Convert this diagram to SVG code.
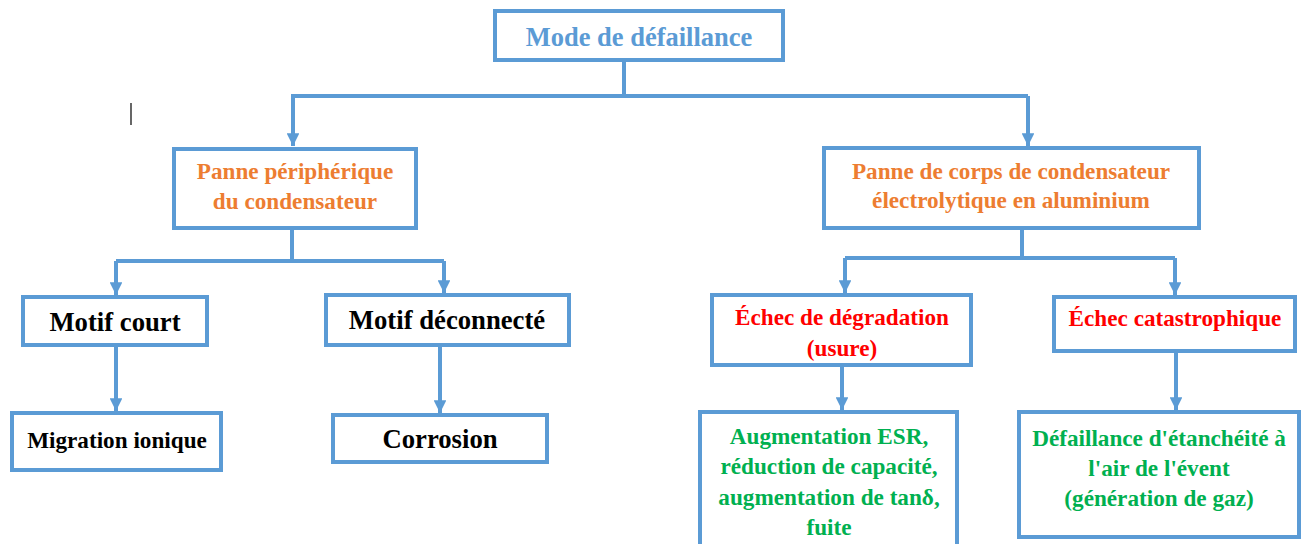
<svg xmlns="http://www.w3.org/2000/svg" width="1302" height="544" viewBox="0 0 1302 544">
<defs>
<style>
.box{fill:#fff;stroke:#5B9BD5;stroke-width:4}
.con{fill:none;stroke:#5B9BD5;stroke-width:4}
text{font-family:'Liberation Serif','DejaVu Serif','Times New Roman',serif;font-weight:bold;text-anchor:middle;dominant-baseline:central}
.blue{fill:#5B9BD5;font-size:26.5px}
.orange{fill:#ED7D31;font-size:23.2px}
.black{fill:#000;font-size:26.7px}
.blacks{fill:#000;font-size:23.2px}
.red{fill:#FF0000;font-size:23.2px}
.green{fill:#00B050;font-size:23.2px}
</style>
<marker id="arr" viewBox="0 0 10 10" refX="10" refY="5" markerWidth="3.2" markerHeight="3.2" markerUnits="strokeWidth" orient="auto">
<path d="M0,0 L10,5 L0,10 Z" fill="#5B9BD5"/>
</marker>
</defs>
<rect width="1302" height="544" fill="#fff"/>
<line x1="131" y1="103" x2="131" y2="125" stroke="#000" stroke-width="1.2"/>
<g id="connectors">
<path class="con" d="M624,61 V96"/>
<path class="con" d="M291,96 H1028"/>
<path class="con" d="M293,96 V146" marker-end="url(#arr)"/>
<path class="con" d="M1028,96 V146" marker-end="url(#arr)"/>
<path class="con" d="M292,229 V261 M116,261 H444"/>
<path class="con" d="M116,261 V295" marker-end="url(#arr)"/>
<path class="con" d="M444,261 V293" marker-end="url(#arr)"/>
<path class="con" d="M116,346 V411" marker-end="url(#arr)"/>
<path class="con" d="M440,346 V413" marker-end="url(#arr)"/>
<path class="con" d="M1022,229 V258 M845,258 H1175"/>
<path class="con" d="M845,258 V293" marker-end="url(#arr)"/>
<path class="con" d="M1175,258 V295" marker-end="url(#arr)"/>
<path class="con" d="M842,366 V410" marker-end="url(#arr)"/>
<path class="con" d="M1176,352 V410" marker-end="url(#arr)"/>
</g>
<g id="root">
<rect class="box" x="495" y="11" width="288" height="49"/>
<text class="blue" x="639" y="37">Mode de défaillance</text>
</g>
<g id="peripherique">
<rect class="box" x="174" y="149" width="242" height="79"/>
<text class="orange" x="295" y="171">Panne périphérique</text>
<text class="orange" x="295" y="201">du condensateur</text>
</g>
<g id="corps">
<rect class="box" x="824" y="148" width="375" height="80"/>
<text class="orange" x="1011" y="171">Panne de corps de condensateur</text>
<text class="orange" x="1011" y="200">électrolytique en aluminium</text>
</g>
<g id="motif-court">
<rect class="box" x="23" y="297" width="184" height="48"/>
<text class="black" x="115" y="322">Motif court</text>
</g>
<g id="motif-deconnecte">
<rect class="box" x="326" y="295" width="243" height="50"/>
<text class="black" x="447" y="320">Motif déconnecté</text>
</g>
<g id="migration">
<rect class="box" x="12" y="413" width="209" height="57"/>
<text class="blacks" x="117" y="440">Migration ionique</text>
</g>
<g id="corrosion">
<rect class="box" x="333" y="415" width="214" height="47"/>
<text class="black" x="440" y="439">Corrosion</text>
</g>
<g id="degradation">
<rect class="box" x="712" y="295" width="259" height="70"/>
<text class="red" x="842" y="317">Échec de dégradation</text>
<text class="red" x="842" y="348">(usure)</text>
</g>
<g id="catastrophique">
<rect class="box" x="1054" y="297" width="241" height="54"/>
<text class="red" x="1175" y="318">Échec catastrophique</text>
</g>
<g id="augmentation">
<rect class="box" x="700" y="412" width="257" height="140"/>
<text class="green" x="829" y="436">Augmentation ESR,</text>
<text class="green" x="829" y="466">réduction de capacité,</text>
<text class="green" x="829" y="497">augmentation de tanδ,</text>
<text class="green" x="829" y="527">fuite</text>
</g>
<g id="etancheite">
<rect class="box" x="1019" y="412" width="280" height="125"/>
<text class="green" x="1159" y="438">Défaillance d'étanchéité à</text>
<text class="green" x="1159" y="468">l'air de l'évent</text>
<text class="green" x="1159" y="498">(génération de gaz)</text>
</g>
</svg>
